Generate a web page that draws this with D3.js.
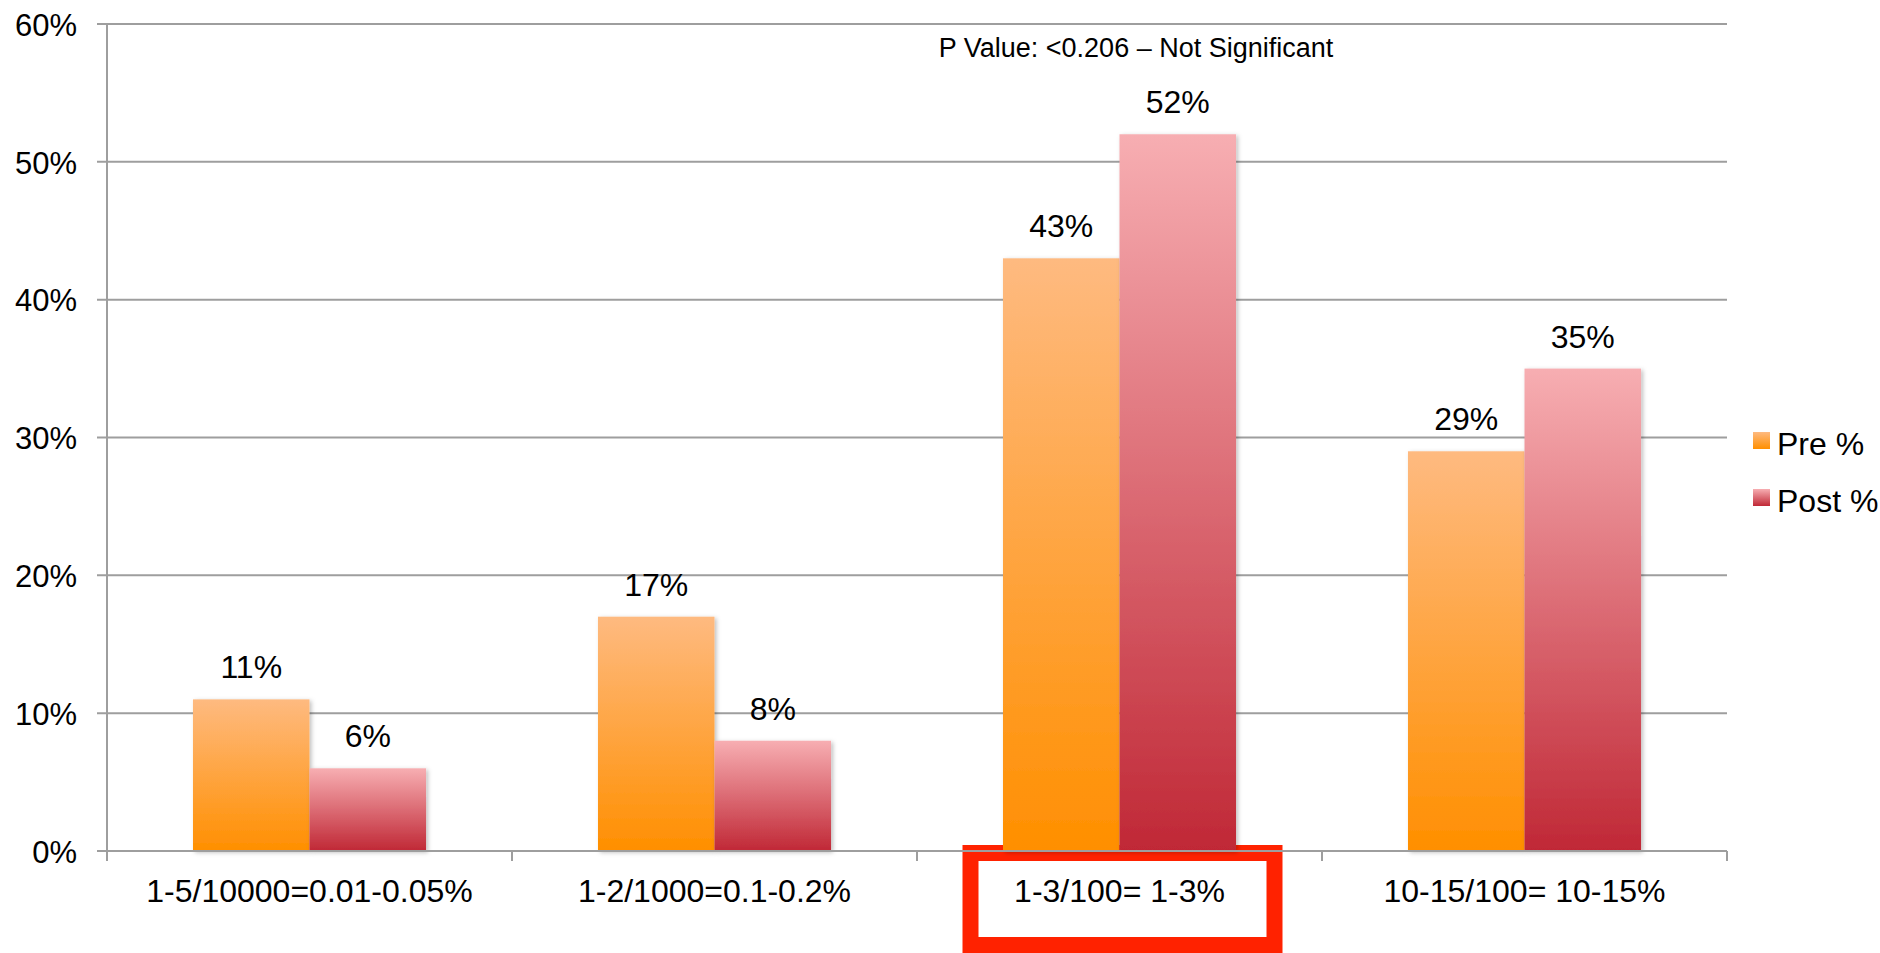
<!DOCTYPE html>
<html>
<head>
<meta charset="utf-8">
<script src="https://cdn.jsdelivr.net/npm/d3@7/dist/d3.min.js"></script>
<style>
  html, body { margin: 0; padding: 0; background: #fff; }
  svg { display: block; }
  text { font-family: "Liberation Sans", Arial, Helvetica, sans-serif; fill: #000; }
</style>
</head>
<body>
<svg id="chart" width="1880" height="953"></svg>
<script>
// Risk ranges shown on the x axis
const categories = ["1-5/10000=0.01-0.05%", "1-2/1000=0.1-0.2%", "1-3/100= 1-3%", "10-15/100= 10-15%"];
const seriesNames = ["Pre %", "Post %"];
// Percent of respondents choosing each range
const preValues = [11, 17, 43, 29];
const postValues = [6, 8, 52, 35];
const yTicks = [0, 10, 20, 30, 40, 50, 60];
const annotation = "P Value: <0.206 \u2013 Not Significant";
const highlighted = "1-3/100= 1-3%";

(function () {
const svg = d3.select("#chart");
const plotLeft = 107, plotRight = 1727, plotTop = 24, plotBottom = 851;

const x = d3.scaleBand().domain(categories).range([plotLeft, plotRight]).padding(0);
const xs = d3.scaleBand().domain(seriesNames).range([0, x.bandwidth()]).paddingInner(0).paddingOuter(0.738);
const y = d3.scaleLinear().domain([0, 60]).range([plotBottom, plotTop]);

// Bar gradients, light at top, saturated at base
const defs = svg.append("defs");
const grads = [
  { id: "gPre", top: "#feba80", bot: "#ff8f00" },
  { id: "gPost", top: "#f7aeb2", bot: "#c02836" }
];
grads.forEach(g => {
  const lg = defs.append("linearGradient").attr("id", g.id)
    .attr("x1", 0).attr("y1", 0).attr("x2", 0).attr("y2", 1);
  lg.append("stop").attr("offset", "0%").attr("stop-color", g.top);
  lg.append("stop").attr("offset", "100%").attr("stop-color", g.bot);
});
const shadow = defs.append("filter").attr("id", "shadow")
  .attr("x", "-10%").attr("y", "-10%").attr("width", "130%").attr("height", "130%");
shadow.append("feDropShadow").attr("dx", 2).attr("dy", 1.5).attr("stdDeviation", 2)
  .attr("flood-color", "#000").attr("flood-opacity", 0.25);

// Highlight frame around one category label
const hx = x(highlighted) + x.bandwidth() / 2;
svg.append("rect")
  .attr("x", hx - 149).attr("y", 853)
  .attr("width", 304).attr("height", 92)
  .attr("fill", "none").attr("stroke", "#ff2200").attr("stroke-width", 16);

// Horizontal gridlines
svg.append("g").selectAll("line").data(yTicks).join("line")
  .attr("x1", plotLeft - 10).attr("x2", plotRight)
  .attr("y1", d => y(d)).attr("y2", d => y(d))
  .attr("stroke", "#9e9e9e").attr("stroke-width", 2);

// Y axis line
svg.append("line").attr("x1", plotLeft).attr("x2", plotLeft).attr("y1", plotTop).attr("y2", plotBottom)
  .attr("stroke", "#9e9e9e").attr("stroke-width", 2);

// Y axis labels
const yAxis = d3.axisLeft(y).tickValues(yTicks).tickFormat(d => d + "%").tickSize(0).tickPadding(0);
const yg = svg.append("g").attr("transform", "translate(77,0)").call(yAxis);
yg.select(".domain").remove();
yg.selectAll("text").style("font-size", "31px").attr("dy", "0.36em")
  .style("font-family", "\"Liberation Sans\", Arial, sans-serif").attr("fill", "#000");

// Bars
const rows = categories.map((c, i) => ({ c, vals: [preValues[i], postValues[i]] }));
const groups = svg.append("g").selectAll("g").data(rows).join("g")
  .attr("transform", d => `translate(${x(d.c)},0)`);
groups.selectAll("rect").data(d => d.vals.map((v, j) => ({ s: seriesNames[j], v, j })))
  .join("rect")
  .attr("x", d => xs(d.s)).attr("width", xs.bandwidth())
  .attr("y", d => y(d.v)).attr("height", d => y(0) - y(d.v))
  .attr("fill", d => d.j === 0 ? "url(#gPre)" : "url(#gPost)")
  .attr("filter", "url(#shadow)");
groups.selectAll("text").data(d => d.vals.map((v, j) => ({ s: seriesNames[j], v })))
  .join("text")
  .attr("x", d => xs(d.s) + xs.bandwidth() / 2)
  .attr("y", d => y(d.v) - 21)
  .attr("text-anchor", "middle").style("font-size", "32px")
  .text(d => d.v + "%");

// X axis baseline and category ticks
svg.append("line").attr("x1", plotLeft - 10).attr("x2", plotRight).attr("y1", plotBottom).attr("y2", plotBottom)
  .attr("stroke", "#9e9e9e").attr("stroke-width", 2);
const xAxis = d3.axisBottom(x).tickSize(0).tickPadding(0);
const xg = svg.append("g").attr("transform", `translate(0,${plotBottom})`).call(xAxis);
xg.select(".domain").remove();
xg.selectAll("text").attr("y", 51).attr("dy", 0).style("font-size", "32px")
  .style("font-family", "\"Liberation Sans\", Arial, sans-serif").attr("fill", "#000");
const boundaries = categories.map(c => x(c)).concat([plotRight]);
svg.append("g").selectAll("line").data(boundaries).join("line")
  .attr("x1", d => d).attr("x2", d => d).attr("y1", plotBottom).attr("y2", plotBottom + 10)
  .attr("stroke", "#9e9e9e").attr("stroke-width", 2);

// Significance note
svg.append("text").attr("x", 1136).attr("y", 57).attr("text-anchor", "middle")
  .style("font-size", "27px").text(annotation);

// Legend
const legend = svg.append("g").selectAll("g").data(seriesNames).join("g")
  .attr("transform", (d, i) => `translate(1753,${432 + i * 57})`);
legend.append("rect").attr("width", 17).attr("height", 17)
  .attr("fill", (d, i) => i === 0 ? "url(#gPre)" : "url(#gPost)");
legend.append("text").attr("x", 24).attr("y", 23).style("font-size", "32px").text(d => d);
})();
</script>
</body>
</html>
